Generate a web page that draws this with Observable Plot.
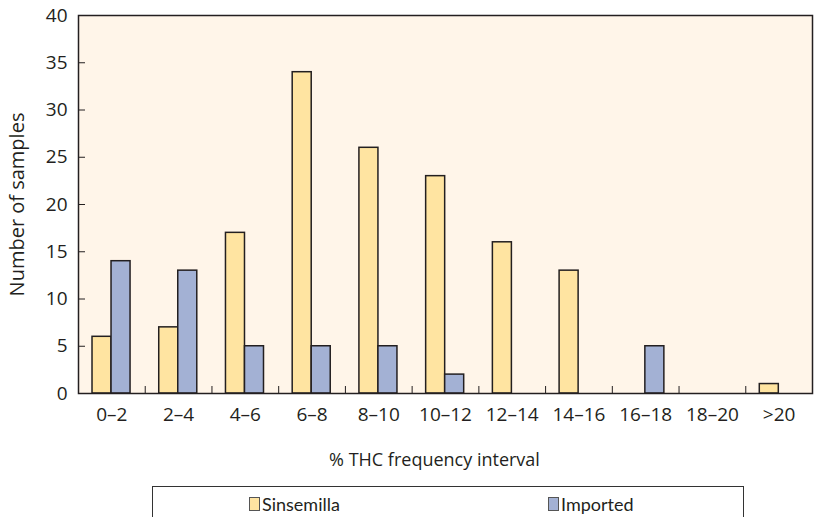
<!DOCTYPE html>
<html>
<head>
<meta charset="utf-8">
<script src="https://cdn.jsdelivr.net/npm/d3@7"></script>
<script src="https://cdn.jsdelivr.net/npm/@observablehq/plot@0.6"></script>
<style>
  body { margin: 0; background: #fff; font-family: Lato, "Open Sans", sans-serif; }
  #legend { margin-left: 152px; margin-top: 4px; width: 590px; height: 40px; border: 1px solid #333; border-bottom: none; position: relative; font-size: 18px; color: #231f20; }
  .item { position: absolute; top: 6px; display: flex; align-items: center; }
  .sw { width: 11px; height: 14px; border: 1px solid #555; margin-right: 2px; box-sizing: border-box; }
</style>
</head>
<body>
<div id="chart"></div>
<div id="legend"></div>
<script>
const categories = ["0–2","2–4","4–6","6–8","8–10","10–12","12–14","14–16","16–18","18–20",">20"];
const sinsemilla = [6, 7, 17, 34, 26, 23, 16, 13, 0, 0, 1];
const imported   = [14, 13, 5, 5, 5, 2, 0, 0, 5, 0, 0];
const yTicks = [0, 5, 10, 15, 20, 25, 30, 35, 40];
const seriesNames = ["Sinsemilla", "Imported"];
const colors = ["#FFE4A1", "#A3B1D4"];

const W = 814, H = 482, mL = 78, mR = 2, mT = 15, mB = 89;
const pw = W - mL - mR, ph = H - mT - mB;
const bw = pw / categories.length;

const sData = categories.map((c, i) => ({cat: c, v: sinsemilla[i]})).filter(d => d.v > 0);
const iData = categories.map((c, i) => ({cat: c, v: imported[i]})).filter(d => d.v > 0);

const ink = "#231f20";
const font = "'Open Sans', Lato, sans-serif";
const chart = Plot.plot({
  width: W, height: H,
  marginLeft: mL, marginRight: mR, marginTop: mT, marginBottom: mB,
  style: {fontFamily: font, fontSize: "18px", color: ink, background: "#fff"},
  x: {domain: categories, padding: 0, round: false, label: null},
  y: {domain: [0, 40], label: null},
  marks: [
    Plot.frame({fill: "#FFF5E9"}),
    Plot.barY(sData, {x: "cat", y: "v", fill: colors[0], stroke: ink, strokeWidth: 1.5,
      insetLeft: bw * 0.21, insetRight: bw * 0.505}),
    Plot.barY(iData, {x: "cat", y: "v", fill: colors[1], stroke: ink, strokeWidth: 1.5,
      insetLeft: bw * 0.495, insetRight: bw * 0.22}),
    Plot.ruleY(yTicks, {stroke: ink, strokeWidth: 1, insetRight: pw - 7}),
    Plot.ruleX(categories.slice(1), {dx: -bw / 2, stroke: ink, strokeWidth: 1, insetTop: ph - 7}),
    Plot.frame({stroke: ink, strokeWidth: 1.5}),
    Plot.axisY({ticks: yTicks, tickSize: 0, tickPadding: 11, fontSize: 19, label: null}),
    Plot.axisX({tickSize: 0, tickPadding: 14, fontSize: 19, label: null}),
    Plot.text(["Number of samples"], {frameAnchor: "left", textAnchor: "middle", rotate: -90, dx: -61, fontSize: 20, fill: ink}),
    Plot.text(["% THC frequency interval"], {frameAnchor: "bottom", textAnchor: "middle", dy: 72, dx: -11, fontSize: 18, fill: ink})
  ]
});
document.getElementById("chart").appendChild(chart);

const leg = document.getElementById("legend");
const pos = [96, 395];
seriesNames.forEach((n, i) => {
  const it = document.createElement("div");
  it.className = "item";
  it.style.left = pos[i] + "px";
  const sw = document.createElement("div");
  sw.className = "sw";
  sw.style.background = colors[i];
  it.appendChild(sw);
  const t = document.createElement("span");
  t.textContent = n;
  it.appendChild(t);
  leg.appendChild(it);
});
</script>
</body>
</html>
